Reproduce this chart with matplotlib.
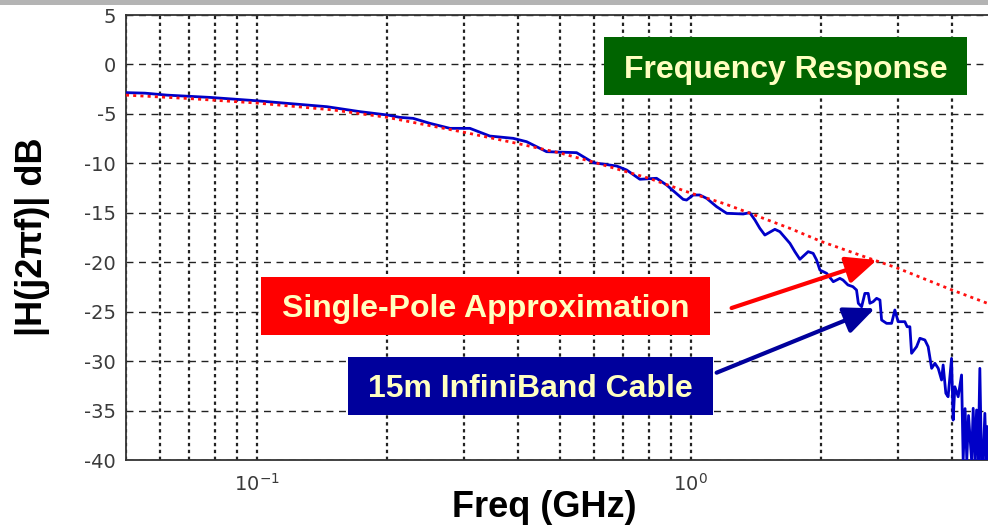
import matplotlib
matplotlib.use('Agg')
import matplotlib.pyplot as plt
from matplotlib.patches import Rectangle

plt.rcParams['font.family'] = ['Liberation Sans', 'DejaVu Sans']
plt.rcParams['mathtext.fontset'] = 'dejavusans'
plt.rcParams['mathtext.default'] = 'regular'
plt.rcParams['axes.unicode_minus'] = False

# measured response of the 15 m InfiniBand cable (GHz, dB)
freq_cable = [0.050, 0.0553, 0.0621, 0.0780, 0.100, 0.1174, 0.1452, 0.1729, 0.200,
              0.2139, 0.2295, 0.2507, 0.2789, 0.3101, 0.3448, 0.3902, 0.4189, 0.4658,
              0.5462, 0.5965, 0.6754, 0.7122, 0.7641, 0.8348, 0.8805, 0.9614, 0.979,
              1.014, 1.050, 1.089, 1.148, 1.211, 1.322, 1.369, 1.407, 1.444, 1.483,
              1.564, 1.606, 1.694, 1.739, 1.786, 1.866, 1.916, 1.951, 1.986, 2.058,
              2.132, 2.208, 2.245, 2.305, 2.366, 2.412, 2.435, 2.478, 2.521, 2.566,
              2.589, 2.634, 2.683, 2.731, 2.755, 2.829, 2.905, 2.956, 3.008, 3.117,
              3.155, 3.201, 3.230, 3.317, 3.376, 3.466, 3.527, 3.593, 3.656, 3.721,
              3.787, 3.819, 3.874, 3.921, 3.993, 4.027, 4.064, 4.136, 4.211, 4.247,
              4.290, 4.330, 4.370, 4.441, 4.479, 4.520, 4.560, 4.599, 4.640, 4.680,
              4.722, 4.765, 4.800, 4.842]
gain_cable = [-2.85, -2.90, -3.10, -3.33, -3.67, -3.93, -4.27, -4.77, -5.11,
              -5.35, -5.45, -5.95, -6.46, -6.46, -7.24, -7.47, -7.81, -8.82,
              -8.92, -9.93, -10.27, -10.67, -11.61, -11.51, -12.19, -13.64, -13.71,
              -13.20, -13.20, -13.54, -14.38, -15.05, -15.12, -14.99, -15.73, -16.57, -17.25,
              -16.67, -16.91, -18.09, -18.93, -19.70, -18.93, -19.10, -19.77, -20.79, -21.12,
              -21.97, -21.63, -21.80, -22.30, -22.47, -22.81, -24.15, -24.50, -23.15, -23.15,
              -24.15, -23.99, -23.65, -23.82, -25.84, -26.18, -26.18, -24.83, -26.01, -26.01,
              -26.52, -26.52, -29.21, -28.54, -27.69, -27.86, -28.54, -30.73, -30.22, -30.73,
              -31.91, -30.39, -33.25, -33.60, -29.72, -35.96, -32.59, -33.60, -31.40, -40.0,
              -34.8, -40.0, -35.5, -40.0, -34.77, -40.0, -34.94, -40.0, -30.73, -40.0,
              -40.0, -35.28, -40.0, -36.63]

# single-pole fit
freq_fit = [0.05, 0.07, 0.1, 0.15, 0.2, 0.3, 0.4, 0.5, 0.6, 0.8, 1.0, 1.2, 1.4,
            1.7, 2.0, 2.5, 3.0, 4.0, 5.0]
gain_fit = [-3.1, -3.45, -3.9, -4.6, -5.35, -6.85, -8.0, -8.95, -9.9, -11.5, -13.0,
            -14.1, -15.2, -16.6, -17.9, -19.4, -20.6, -22.8, -24.4]

yticks = [5, 0, -5, -10, -15, -20, -25, -30, -35, -40]

fig = plt.figure(figsize=(9.88, 5.27), dpi=100)
ax = fig.add_axes([0.1275, 0.1271, 0.8785, 0.8444])

ax.semilogx(freq_cable, gain_cable, color='#0000C8', lw=2.0, zorder=3)
ax.semilogx(freq_fit, gain_fit, color='#FF1010', lw=2.0,
            linestyle=(0, (1.1, 1.5)), zorder=4)

ax.set_xlim(0.05, 5)
ax.set_ylim(-40, 5)
ax.set_yticks(yticks)

ax.set_axisbelow(True)
ax.grid(True, which='major', axis='y', color='#222222', lw=1.0,
        linestyle=(0, (5, 4)))
ax.grid(True, which='both', axis='x', color='#222222', lw=1.6,
        linestyle=(0, (1.5, 1.6)))
ax.tick_params(which='both', length=0, labelsize=14, labelcolor='#3a3a3a',
               labelfontfamily='DejaVu Sans')
ax.tick_params(axis='y', pad=7)
ax.tick_params(axis='x', pad=9)
for side in ['left', 'bottom', 'top']:
    ax.spines[side].set_color('#333333')
    ax.spines[side].set_linewidth(1.3)
ax.spines['right'].set_visible(False)

# arrows pointing at each curve
ax.annotate('', xy=(2.687, -19.77), xytext=(1.243, -24.63),
            arrowprops=dict(arrowstyle='-|>,head_length=0.75,head_width=0.33',
                            color='#FF0000', lw=3, mutation_scale=25,
                            shrinkA=0, shrinkB=0), zorder=6)
ax.annotate('', xy=(2.659, -24.66), xytext=(1.148, -31.17),
            arrowprops=dict(arrowstyle='-|>,head_length=0.75,head_width=0.33',
                            color='#00009C', lw=3, mutation_scale=25,
                            shrinkA=0, shrinkB=0), zorder=6)

# labelled boxes
boxes = [
    ('Frequency Response', '#006400', (0.6113, 0.8197, 0.3674), (0.795, 0.852)),
    ('Single-Pole Approximation', '#FF0000', (0.2642, 0.3643, 0.4545), (0.4914, 0.399)),
    ('15m InfiniBand Cable', '#00009C', (0.3522, 0.2125, 0.3694), (0.537, 0.2461)),
]
for label, fc, (x0, y0, w), (tx, ty) in boxes:
    fig.add_artist(Rectangle((x0, y0), w, 0.1101, facecolor=fc, edgecolor='none',
                             transform=fig.transFigure, zorder=5))
    fig.text(tx, ty, label, color='#FFFFC0', fontsize=23, fontweight='bold',
             ha='center', va='baseline', zorder=6)

fig.text(0.0334, 0.551, '|H(j2\u03c0f)| dB', rotation=90, fontsize=26,
         fontweight='bold', ha='center', va='center')
fig.text(0.5506, 0.019, 'Freq (GHz)', fontsize=26, fontweight='bold',
         ha='center', va='baseline')

# grey strip along the top edge
fig.add_artist(Rectangle((0, 1 - 5 / 527), 1, 5 / 527, facecolor='#B4B4B4',
                         edgecolor='none', transform=fig.transFigure, zorder=7))

fig.savefig('out.png', dpi=100)
